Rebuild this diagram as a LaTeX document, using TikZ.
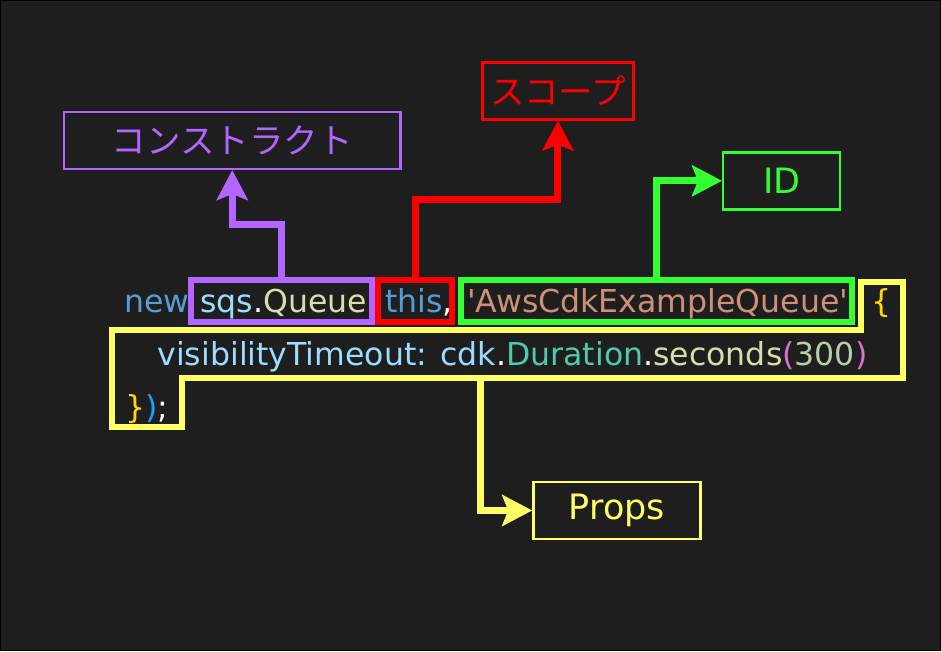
\documentclass[tikz,border=0pt]{standalone}
\usepackage{fontspec}
\setmainfont{DejaVu Sans}
\newfontfamily\jpfont{Noto Sans CJK JP}
\usetikzlibrary{arrows.meta}
\definecolor{bgdark}{HTML}{1E1E1E}
\definecolor{cpurple}{HTML}{B266FF}
\definecolor{cred}{HTML}{FF0000}
\definecolor{cgreen}{HTML}{33FF33}
\definecolor{cyellow}{HTML}{FFFF66}
\definecolor{kwblue}{HTML}{569CD6}
\definecolor{varblue}{HTML}{9CDCFE}
\definecolor{fnyellow}{HTML}{DCDCAA}
\definecolor{strorange}{HTML}{CE9178}
\definecolor{clsteal}{HTML}{4EC9B0}
\definecolor{numgreen}{HTML}{B5CEA8}
\definecolor{brgold}{HTML}{FFD700}
\definecolor{brpink}{HTML}{DA70D6}
\definecolor{brblue}{HTML}{179FFF}
\newcommand{\codefont}{\fontsize{31.6}{37}\selectfont}
\newcommand{\lblfont}{\fontsize{35}{42}\selectfont}
\newcommand{\jplblfont}{\jpfont\fontsize{34.5}{40}\selectfont}

\begin{document}
\begin{tikzpicture}[x=1pt,y=-1pt,
    code/.style={anchor=base west,inner sep=0pt,font=\codefont},
    cbox/.style={draw=#1,line width=6pt,inner sep=0pt},
    lbl/.style={draw=#1,text=#1,line width=2.5pt,inner sep=0pt,minimum height=57pt},
    link/.style={draw=#1,line width=7pt,-{Stealth[length=30pt,width=31pt,inset=6pt]}}]
    \fill[bgdark,draw=black,line width=1pt] (0,0) rectangle (941,651);
    \useasboundingbox (0,0) rectangle (941,651);

    % code
    \node[code,text=kwblue] (codenew) at (124,312) {new};
    \node[code] (codequeue) at (200,312) {\textcolor{varblue}{sqs}\textcolor{white}{.}\textcolor{fnyellow}{Queue}};
    \node[code] (codethis) at (385,312) {\textcolor{kwblue}{this}\textcolor{white}{,}};
    \node[code,text=strorange] (codeid) at (467,312) {\textquotesingle AwsCdkExampleQueue\textquotesingle};
    \node[code,text=brgold] (codebrace) at (872,312) {\{};
    \node[code] (codeprops) at (157,365) {\textcolor{varblue}{visibilityTimeout:} \textcolor{varblue}{cdk}\textcolor{white}{.}\textcolor{clsteal}{Duration}\textcolor{white}{.}\textcolor{fnyellow}{seconds}\textcolor{brpink}{(}\textcolor{numgreen}{300}\textcolor{brpink}{)}};
    \node[code] (codeend) at (125,418) {\textcolor{brgold}{\}}\textcolor{brblue}{)}\textcolor{white}{;}};

    % boxes round the code
    \node[cbox=cpurple,minimum width=181pt,minimum height=42pt] (queuebox) at (281.5,301) {};
    \node[cbox=cred,minimum width=74pt,minimum height=42pt] (thisbox) at (415,301) {};
    \node[cbox=cgreen,minimum width=391pt,minimum height=42pt] (idbox) at (656.5,301) {};
    \draw[cyellow,line width=6pt] (861.5,281.5) -- (903.5,281.5) -- (903.5,378) -- (181.5,378)
        -- (181.5,427) -- (111.5,427) -- (111.5,330) -- (861.5,330) -- cycle;
    \coordinate (propsfrom) at (481,378);

    % labels
    \node[lbl=cpurple,minimum width=337pt,font=\jplblfont] (construct) at (232,140) {コンストラクト};
    \node[lbl=cred,minimum width=151pt,font=\jplblfont] (scope) at (558,90.5) {スコープ};
    \node[lbl=cgreen,minimum width=117pt,font=\lblfont] (id) at (782,180.5) {ID};
    \node[lbl=cyellow,minimum width=167pt,font=\lblfont] (props) at (617,510.5) {Props};

    \draw[link=cpurple] (queuebox.north) -- ++(0,-53) -| (construct.south);
    \draw[link=cred] (thisbox.north) -- ++(0,-78) -| (scope.south);
    \draw[link=cgreen] (idbox.north) |- (id.west);
    \draw[link=cyellow] (propsfrom) |- (props.west);
\end{tikzpicture}
\end{document}
